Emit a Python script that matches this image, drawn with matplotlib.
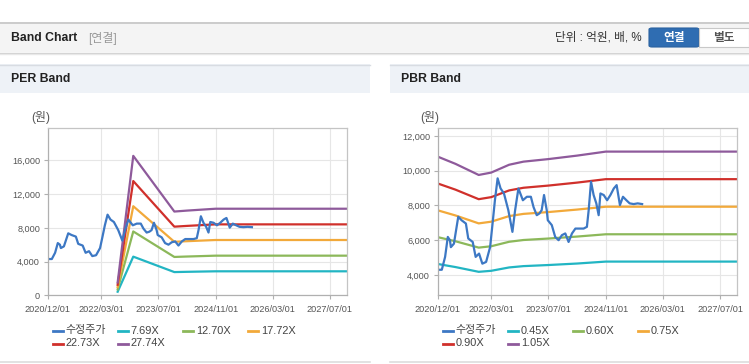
import matplotlib
matplotlib.use("Agg")
import matplotlib.pyplot as plt
import matplotlib.dates as mdates
from matplotlib.patches import Rectangle, FancyBboxPatch
from matplotlib.lines import Line2D
import pandas as pd

plt.rcParams['font.family'] = ['Liberation Sans', 'Noto Sans CJK KR', 'DejaVu Sans']

# ---------------- data ----------------
price_dates = ["2020-12-01", "2021-01-05", "2021-02-02", "2021-02-25", "2021-03-15", "2021-03-23",
               "2021-04-18", "2021-05-25", "2021-06-22", "2021-07-29", "2021-08-18", "2021-09-25",
               "2021-10-20", "2021-11-18", "2021-12-16", "2022-01-17", "2022-02-20", "2022-03-13",
               "2022-04-02", "2022-04-25", "2022-05-20", "2022-06-18", "2022-07-25", "2022-08-29",
               "2022-09-21", "2022-10-19", "2022-11-26", "2022-12-30", "2023-02-02", "2023-02-25",
               "2023-03-24", "2023-04-16", "2023-05-05", "2023-05-25", "2023-06-17", "2023-06-26",
               "2023-07-30", "2023-08-28", "2023-09-26", "2023-10-24", "2023-11-22", "2023-12-20",
               "2024-01-18", "2024-02-16", "2024-03-14", "2024-04-26", "2024-05-24", "2024-06-08",
               "2024-06-28", "2024-07-20", "2024-08-12", "2024-09-01", "2024-09-16", "2024-10-14",
               "2024-11-12", "2024-12-10", "2025-01-08", "2025-02-01", "2025-03-01", "2025-03-27",
               "2025-04-25", "2025-05-23", "2025-06-26", "2025-07-30", "2025-09-06"]
price_values = [4300, 4300, 5040, 6190, 6000, 5600,
                5800, 7350, 7150, 6960, 6100, 5900,
                5040, 5230, 4650, 4750, 5600, 6960,
                8300, 9560, 8980, 8690, 7730, 6480,
                7730, 8980, 8300, 8500, 8500, 7900,
                7440, 7540, 7730, 8600, 7730, 7150,
                6870, 6190, 6000, 6290, 6390, 5900,
                6390, 6670, 6670, 6670, 6770, 7730,
                9370, 8600, 8120, 7440, 8690, 8600,
                8300, 8600, 8980, 9170, 8020, 8500,
                8300, 8120, 8080, 8120, 8080]

per_band_dates = ["2022-07-20", "2022-11-30", "2023-11-15", "2024-03-01", "2024-07-01", "2024-11-01", "2027-12-31"]
per_7_69 = [423, 4583, 2753, 2784, 2815, 2845, 2845]
per_12_70 = [699, 7569, 4547, 4597, 4648, 4699, 4699]
per_17_72 = [975, 10561, 6344, 6415, 6486, 6556, 6556]
per_22_73 = [1250, 13547, 8137, 8228, 8319, 8410, 8410]
per_27_74 = [1526, 16533, 9931, 10042, 10153, 10264, 10264]

pbr_band_dates = ["2020-12-01", "2021-05-01", "2021-11-15", "2022-03-01", "2022-08-01",
                  "2022-12-01", "2023-07-01", "2024-03-01", "2024-11-01", "2027-12-31"]
pbr_0_45 = [4633, 4455, 4181, 4239, 4433, 4509, 4572, 4658, 4770, 4770]
pbr_0_60 = [6177, 5940, 5574, 5652, 5910, 6012, 6096, 6210, 6342, 6342]
pbr_0_75 = [7721, 7425, 6968, 7065, 7388, 7515, 7620, 7763, 7928, 7928]
pbr_0_90 = [9266, 8910, 8361, 8478, 8865, 9018, 9144, 9315, 9513, 9513]
pbr_1_05 = [10810, 10395, 9755, 9891, 10343, 10521, 10668, 10868, 11099, 11099]

per_labels = ["수정주가", "7.69X", "12.70X", "17.72X", "22.73X", "27.74X"]
pbr_labels = ["수정주가", "0.45X", "0.60X", "0.75X", "0.90X", "1.05X"]
series_colors = ["#3d78c4", "#22b5c3", "#8cb85a", "#f2a93a", "#d0302b", "#8e5a9b"]

x_tick_dates = ["2020-12-01", "2022-03-01", "2023-07-01", "2024-11-01", "2026-03-01", "2027-07-01"]
x_tick_labels = ["2020/12/01", "2022/03/01", "2023/07/01", "2024/11/01", "2026/03/01", "2027/07/01"]
x_range = ["2020-12-01", "2027-11-25"]
per_yticks = [0, 4000, 8000, 12000, 16000]
pbr_yticks = [4000, 6000, 8000, 10000, 12000]
per_ylim = (0, 19800)
pbr_ylim = (2830, 12440)

# ---------------- figure ----------------
W, H = 749, 364
fig = plt.figure(figsize=(W / 100, H / 100), dpi=100)
fig.patch.set_facecolor("white")


def fx(x):
    return x / W


def fy(y):
    return 1 - y / H


def rect(x0, y0, x1, y1, **kw):
    r = Rectangle((fx(x0), fy(y1)), fx(x1) - fx(x0), fy(y0) - fy(y1),
                  transform=fig.transFigure, **kw)
    fig.add_artist(r)
    return r


def hline(x0, x1, y, color, lw=1.0):
    fig.add_artist(Line2D([fx(x0), fx(x1)], [fy(y), fy(y)], transform=fig.transFigure,
                          color=color, lw=lw))


# header bar
rect(0, 22, W, 52, facecolor="#f4f4f4", edgecolor="none")
hline(0, W, 22.5, "#c4c4c4", 1.2)
hline(0, W, 52.5, "#d0d0d0", 1.0)
hline(0, W, 53.5, "#e8e8e8", 1.0)
fig.text(fx(11), fy(38), "Band Chart", fontsize=8.8, fontweight="bold", color="#222",
         va="center", ha="left")
fig.text(fx(88), fy(38.5), "[연결]", fontsize=8.6, color="#999", va="center", ha="left")
fig.text(fx(642), fy(38), "단위 : 억원, 배, %", fontsize=8.4, color="#333", va="center", ha="right")
b1 = FancyBboxPatch((fx(649), fy(47)), fx(699) - fx(649), fy(28) - fy(47),
                    boxstyle="round,pad=0,rounding_size=0.004", transform=fig.transFigure,
                    facecolor="#2f6db2", edgecolor="#2a62a0", lw=0.8)
fig.add_artist(b1)
rect(699, 28, 748.5, 47, facecolor="white", edgecolor="#c8c8c8", lw=0.8)
fig.text(fx(674), fy(37.5), "연결", fontsize=8.4, fontweight="bold", color="white",
         va="center", ha="center")
fig.text(fx(724), fy(37.5), "별도", fontsize=8.4, fontweight="bold", color="#555",
         va="center", ha="center")

# panel headers
for (x0, x1, title) in [(0, 370, "PER Band"), (390, W, "PBR Band")]:
    rect(x0, 64, x1, 92.5, facecolor="#eef2f7", edgecolor="none")
    hline(x0, x1, 64.5, "#d8dce2", 1.0)
    hline(x0, x1, 362, "#dddddd", 1.2)
    fig.text(fx(x0 + 11), fy(79.5), title, fontsize=8.8, fontweight="bold", color="#222",
             va="center", ha="left")

xd = pd.to_datetime
tick_pos = xd(x_tick_dates)


def style_axis(ax, yticks, ylim):
    ax.set_xlim(xd(x_range[0]), xd(x_range[1]))
    ax.set_ylim(*ylim)
    ax.set_xticks(tick_pos)
    ax.set_xticklabels(x_tick_labels)
    ax.set_yticks(yticks)
    ax.set_yticklabels([f"{v:,}" for v in yticks])
    ax.grid(True, color="#e6e6e6", lw=0.8)
    ax.set_axisbelow(True)
    for s in ax.spines.values():
        s.set_color("#c4c4c4")
        s.set_linewidth(0.9)
    for s in ("left", "bottom"):
        ax.spines[s].set_color("#b0b0b0")
    ax.tick_params(axis="both", labelsize=6.6, labelcolor="#555", color="#b0b0b0",
                   length=3, width=0.8, pad=2.5)
    ax.tick_params(axis="x", pad=4)


def legend(x0, labels):
    cols = [x0, x0 + 65, x0 + 130, x0 + 195]
    for i, (lab, col) in enumerate(zip(labels, series_colors)):
        r, c = divmod(i, 4)
        y = 330.5 + r * 13
        fig.add_artist(Line2D([fx(cols[c]), fx(cols[c] + 10)], [fy(y), fy(y)],
                              transform=fig.transFigure, color=col, lw=2.0))
        fig.text(fx(cols[c] + 13), fy(y), lab, fontsize=7.9, color="#444", va="center", ha="left")


lw = 1.6
# PER
ax1 = fig.add_axes([fx(47.7), fy(295.3), fx(347) - fx(47.7), fy(128.3) - fy(295.3)])
style_axis(ax1, per_yticks, per_ylim)
pbd = xd(per_band_dates)
for vals, col in zip([per_7_69, per_12_70, per_17_72, per_22_73, per_27_74], series_colors[1:]):
    ax1.plot(pbd, vals, color=col, lw=lw, solid_joinstyle="round")
ax1.plot(xd(price_dates), price_values, color=series_colors[0], lw=lw, solid_joinstyle="round")
fig.text(fx(31), fy(118), "(원)", fontsize=8.6, color="#555", va="center", ha="left")
legend(52.7, per_labels)

# PBR
ax2 = fig.add_axes([fx(437.7), fy(295.3), fx(737.3) - fx(437.7), fy(128.3) - fy(295.3)])
style_axis(ax2, pbr_yticks, pbr_ylim)
bbd = xd(pbr_band_dates)
for vals, col in zip([pbr_0_45, pbr_0_60, pbr_0_75, pbr_0_90, pbr_1_05], series_colors[1:]):
    ax2.plot(bbd, vals, color=col, lw=lw, solid_joinstyle="round")
ax2.plot(xd(price_dates), price_values, color=series_colors[0], lw=lw, solid_joinstyle="round")
fig.text(fx(420.5), fy(118), "(원)", fontsize=8.6, color="#555", va="center", ha="left")
legend(442.7, pbr_labels)

fig.savefig("out.png", dpi=100, facecolor="white")
